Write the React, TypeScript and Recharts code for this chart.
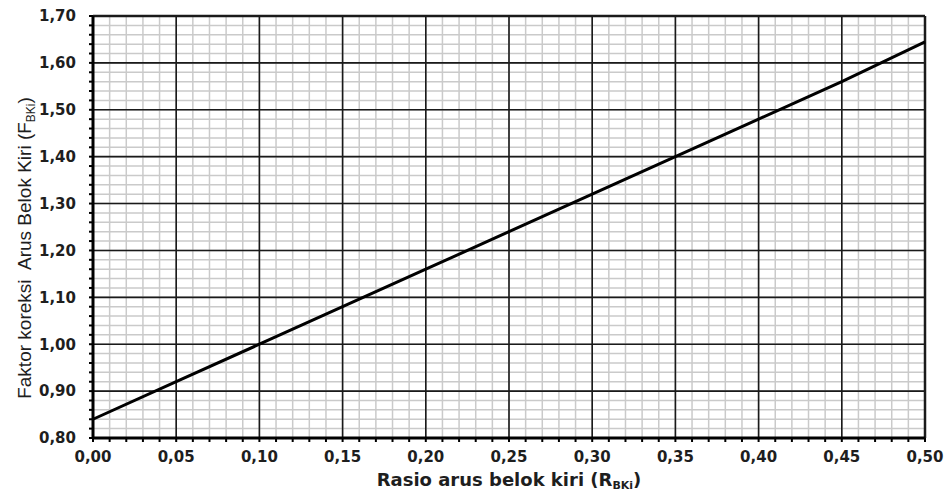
import { LineChart, Line, XAxis, YAxis, CartesianGrid, ReferenceLine, Label } from "recharts";

// F_BKi at each major x tick
const rasio = [0, 0.05, 0.1, 0.15, 0.2, 0.25, 0.3, 0.35, 0.4, 0.45, 0.5];
const faktor = [0.84, 0.92, 1.0, 1.08, 1.16, 1.24, 1.32, 1.4, 1.48, 1.56, 1.645];

// minor ticks: x every 0.01, y every 0.02
const xTicks = Array.from({ length: 51 }, (_, i) => i / 100);
const yTicks = Array.from({ length: 46 }, (_, i) => (80 + i * 2) / 100);
const xMajor = [0.05, 0.1, 0.15, 0.2, 0.25, 0.3, 0.35, 0.4, 0.45, 0.5];
const yMajor = [0.9, 1.0, 1.1, 1.2, 1.3, 1.4, 1.5, 1.6, 1.7];

const data = rasio.map((r, i) => ({ r, f: faktor[i] }));

const fmt = (v: number, step: number) =>
  Math.round(v * 100) % step === 0 ? v.toFixed(2).replace(".", ",") : "";

const tickStyle = { fill: "#1e1e1e", fontSize: 15, fontWeight: "bold" as const, fontFamily: "DejaVu Sans" };

export default function App() {
  return (
    <div style={{ position: "absolute", left: 0, top: 0, background: "#fff" }}>
      <LineChart width={948} height={493} data={data} margin={{ top: 16, right: 23, left: 0, bottom: 0 }}>
        <CartesianGrid stroke="#cacaca" strokeWidth={1.5} />
        {xMajor.map((x) => (
          <ReferenceLine key={"x" + x} x={x} stroke="#1a1a1a" strokeWidth={x === 0.5 ? 2.5 : 1.6} />
        ))}
        {yMajor.map((y) => (
          <ReferenceLine key={"y" + y} y={y} stroke="#1a1a1a" strokeWidth={y === 1.7 ? 2.5 : 1.6} />
        ))}
        <XAxis
          dataKey="r"
          type="number"
          domain={[0, 0.5]}
          ticks={xTicks}
          interval={0}
          tickFormatter={(v: number) => fmt(v, 5)}
          tick={tickStyle}
          tickSize={4}
          tickMargin={9}
          tickLine={{ stroke: "#000", strokeWidth: 2 }}
          axisLine={{ stroke: "#000", strokeWidth: 3 }}
          height={55}
        >
          <Label
            content={() => (
              <text x={509} y={486} textAnchor="middle" fill="#1e1e1e" fontFamily="DejaVu Sans" fontWeight="bold" fontSize={18}>
                <tspan>Rasio arus belok kiri (R</tspan>
                <tspan fontSize={11} dy={3}>BKi</tspan>
                <tspan dy={-3}>)</tspan>
              </text>
            )}
          />
        </XAxis>
        <YAxis
          type="number"
          domain={[0.8, 1.7]}
          ticks={yTicks}
          interval={0}
          tickFormatter={(v: number) => fmt(v, 10)}
          tick={tickStyle}
          tickSize={4}
          tickMargin={13}
          tickLine={{ stroke: "#000", strokeWidth: 2 }}
          axisLine={{ stroke: "#000", strokeWidth: 3 }}
          width={93}
        >
          <Label
            content={() => (
              <text
                x={31}
                y={248}
                transform="rotate(-90 31 248)"
                textAnchor="middle"
                fill="#1e1e1e"
                fontFamily="Liberation Sans"
                fontSize={19}
                style={{ whiteSpace: "pre" }}
              >
                <tspan>Faktor koreksi  Arus Belok Kiri (F</tspan>
                <tspan fontSize={12} dy={4}>BKi</tspan>
                <tspan dy={-4}>)</tspan>
              </text>
            )}
          />
        </YAxis>
        <Line type="linear" dataKey="f" stroke="#000" strokeWidth={3} dot={false} isAnimationActive={false} />
      </LineChart>
    </div>
  );
}
